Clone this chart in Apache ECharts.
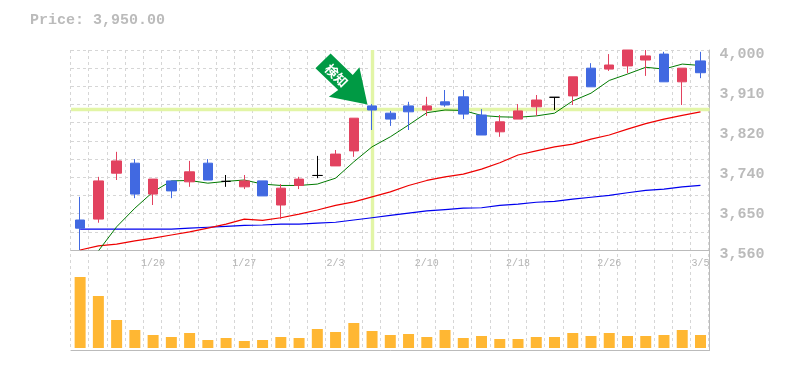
<!DOCTYPE html>
<html>
<head>
<meta charset="utf-8">
<style>html,body{margin:0;padding:0;background:#fff}#c{width:785px;height:370px}</style>
<script src="https://cdn.jsdelivr.net/npm/echarts@6/dist/echarts.min.js"></script>
</head>
<body>
<div id="c"></div>
<script>
const categories = ['1/14','1/15','1/16','1/17','1/20','1/21','1/22','1/23','1/24','1/27','1/28','1/29','1/30','1/31','2/3','2/4','2/5','2/6','2/7','2/10','2/12','2/13','2/14','2/17','2/18','2/19','2/20','2/21','2/25','2/26','2/28','3/2','3/3','3/4','3/5'];
const opens  = [3626,3628,3729,3751,3683,3712,3710,3751,3711,3699,3712,3659,3702,3724,3745,3778,3877,3861,3877,3868,3886,3897,3857,3820,3848,3875,3896,3899,3960,3958,3965,3978,3991,3930,3976];
const closes = [3608,3712,3756,3683,3716,3690,3732,3714,3711,3712,3679,3696,3716,3724,3771,3850,3868,3848,3864,3877,3879,3859,3813,3842,3866,3890,3896,3941,3919,3967,4000,3987,3930,3960,3950];
const lows   = [3560,3620,3714,3674,3659,3674,3699,3714,3699,3694,3679,3628,3694,3718,3745,3765,3824,3833,3824,3855,3875,3848,3813,3809,3848,3855,3868,3879,3919,3954,3949,3943,3930,3879,3938];
const highs  = [3677,3721,3776,3760,3716,3712,3756,3760,3725,3725,3712,3705,3721,3767,3780,3850,3881,3866,3886,3897,3912,3912,3870,3857,3881,3901,3896,3941,3971,3991,4000,4000,3996,3960,3996];
const maShort = [null,3558,3611,3652,3688,3712,3713,3707,3711,3714,3705,3702,3702,3705,3718,3754,3787,3809,3835,3862,3868,3867,3856,3853,3852,3855,3861,3888,3905,3933,3947,3962,3958,3969,3966];
const maMid   = [3560,3569,3573,3580,3586,3593,3600,3608,3617,3628,3625,3631,3639,3648,3658,3666,3677,3688,3702,3713,3721,3727,3738,3752,3769,3778,3787,3793,3804,3813,3826,3838,3848,3856,3864];
const maLong  = [3606,3606,3606,3606,3606,3606,3608,3610,3612,3614,3615,3617,3617,3619,3621,3626,3631,3636,3641,3646,3649,3652,3653,3658,3661,3665,3667,3672,3676,3680,3686,3691,3694,3699,3702];
const volumes = [71,52,28,18,13,11,15,8,10,7,8,11,10,19,16,25,17,13,14,11,18,10,12,9,9,11,11,15,12,15,12,12,13,18,13];
const priceTicks = [3560,3648,3736,3824,3912,4000];
const titleText = 'Price: 3,950.00';
const signalIndex = 16;
const signalPrice = 3870;
const signalText = '検知';

const MONO = '"Liberation Mono","DejaVu Sans Mono",monospace';
const GREY = '#bbbbbb';
const dash = {show:true, lineStyle:{color:'#d6d6d6', type:[3,3], width:1}};
const candleData = opens.map((o,i)=>[o,closes[i],lows[i],highs[i]]);
const arrowPath = 'path://M15.0 0 L37 21.3 L43.6 13.6 L51.6 50.6 L13.3 43 L22.6 36.3 L0 14.6 Z';

const chart = echarts.init(document.getElementById('c'), null, {renderer:'canvas'});
chart.setOption({
  animation:false,
  backgroundColor:'#fff',
  title:{text:titleText,left:25,top:8,textStyle:{fontFamily:MONO,fontSize:15,fontWeight:'bold',color:GREY}},
  grid:[
    {left:71,top:50,width:638.6,height:200},
    {left:71,top:250,width:638.6,height:100},
    {left:70.3,top:50,width:638.4,height:300}
  ],
  xAxis:[
    {type:'category',gridIndex:0,data:categories,boundaryGap:true,
      axisLine:{show:true,onZero:false,lineStyle:{color:GREY,width:1}},axisTick:{show:false},splitLine:{show:false},
      axisLabel:{interval:(i)=>(i+1)%5===0,margin:8,fontFamily:MONO,fontSize:10,color:'#b4b4b4',hideOverlap:false}},
    {type:'category',gridIndex:1,data:categories,boundaryGap:true,
      axisLine:{show:true,onZero:false,lineStyle:{color:GREY,width:1}},axisTick:{show:false},axisLabel:{show:false},splitLine:{show:false}},
    {type:'category',gridIndex:2,data:categories,boundaryGap:true,
      axisLine:{show:false},axisTick:{show:false},axisLabel:{show:false},
      splitLine:Object.assign({interval:0},dash)}
  ],
  yAxis:[
    {type:'value',gridIndex:0,position:'right',min:3560,max:4000,interval:40,scale:true,
      axisLine:{show:true,lineStyle:{color:GREY,width:1}},axisTick:{show:false},
      splitLine:dash,
      axisLabel:{customValues:priceTicks,margin:10,verticalAlign:'top',lineHeight:8,fontFamily:MONO,fontSize:15,fontWeight:'bold',color:GREY,
        formatter:(v)=>(Math.round(v/10)*10).toLocaleString('en-US')}},
    {type:'value',gridIndex:1,position:'right',min:-2,max:98,
      axisLine:{show:true,lineStyle:{color:GREY,width:1}},axisTick:{show:false},axisLabel:{show:false},splitLine:{show:false}},
    {type:'value',gridIndex:2,show:false,min:0,max:1,splitLine:{show:false}}
  ],
  series:[
    {type:'line',name:'signal',xAxisIndex:0,yAxisIndex:0,data:[],z:1,silent:true,
      markLine:{z:1,silent:true,symbol:'none',label:{show:false},animation:false,
        lineStyle:{color:'#e2f5a6',width:3.4,type:'solid'},
        data:[{yAxis:signalPrice},{xAxis:signalIndex}]}},
    {type:'line',name:'maLong',xAxisIndex:0,yAxisIndex:0,data:maLong,symbol:'none',z:2,lineStyle:{color:'#0000ee',width:1.2}},
    {type:'line',name:'maMid',xAxisIndex:0,yAxisIndex:0,data:maMid,symbol:'none',z:2,lineStyle:{color:'#ee0000',width:1.2}},
    {type:'line',name:'maShort',xAxisIndex:0,yAxisIndex:0,data:maShort,symbol:'none',z:2,connectNulls:false,lineStyle:{color:'#007a00',width:1}},
    {type:'candlestick',name:'price',xAxisIndex:0,yAxisIndex:0,data:candleData,barWidth:10,z:3,clip:true,
      itemStyle:{color:'#e2425f',color0:'#4169e1',borderColor:'#e2425f',borderColor0:'#4169e1',borderColorDoji:'#000000',borderWidth:1},
      markPoint:{silent:true,animation:false,
        symbol:arrowPath,symbolSize:[52,51],symbolOffset:[-30.6,-29.2],symbolKeepAspect:false,
        itemStyle:{color:'#009a44'},
        label:{show:true,position:'inside',offset:[-6,1],rotate:-45,formatter:signalText,color:'#fff',fontWeight:'bold',fontSize:13,fontFamily:'"Noto Sans CJK JP"'},
        data:[{coord:[signalIndex,3872]}]}},
    {type:'bar',name:'volume',xAxisIndex:1,yAxisIndex:1,data:volumes,barWidth:11,itemStyle:{color:'#ffb733'}}
  ]
});
</script>
</body>
</html>
